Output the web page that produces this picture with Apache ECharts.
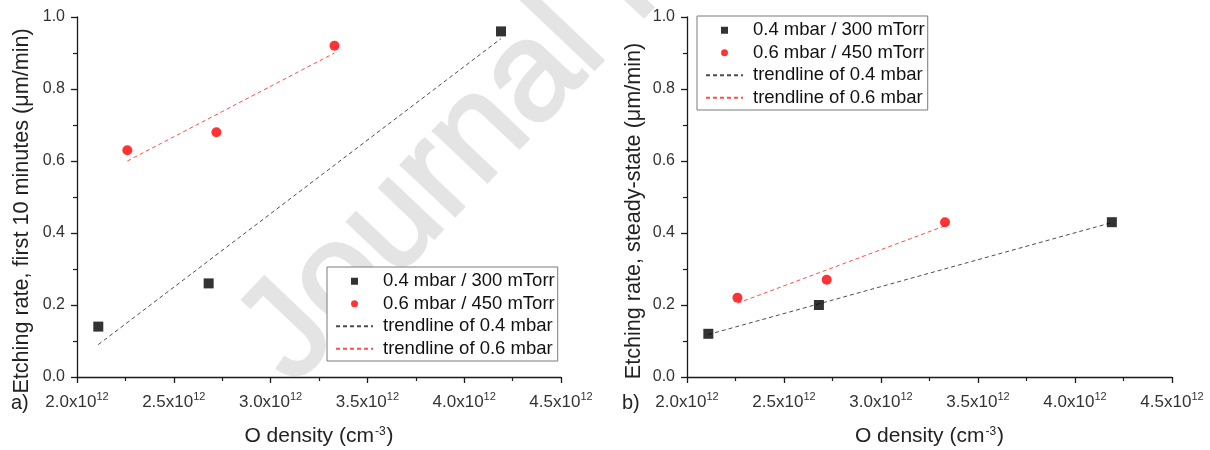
<!DOCTYPE html>
<html>
<head>
<meta charset="utf-8">
<script src="https://cdn.jsdelivr.net/npm/echarts@6/dist/echarts.min.js"></script>
<style>
  html, body { margin: 0; padding: 0; background: #ffffff; }
  #chart { width: 1210px; height: 450px; }
</style>
</head>
<body>
<div id="chart"></div>
<script>
// O density (cm^-3) of the two pressure series
const densityLow  = [2.11e12, 2.68e12, 4.19e12];   // 0.4 mbar / 300 mTorr
const densityHigh = [2.26e12, 2.72e12, 3.33e12];   // 0.6 mbar / 450 mTorr

// Etching rate during the first 10 minutes (µm/min)
const rateFirstLow  = [0.14, 0.26, 0.96];
const rateFirstHigh = [0.63, 0.68, 0.92];

// Steady-state etching rate (µm/min)
const rateSteadyLow  = [0.12, 0.20, 0.43];
const rateSteadyHigh = [0.22, 0.27, 0.43];

// Trendline end points, [O density, etching rate]
const trendFirstLow   = [[2.11e12, 0.09],  [4.19e12, 0.94]];
const trendFirstHigh  = [[2.26e12, 0.60],  [3.33e12, 0.90]];
const trendSteadyLow  = [[2.11e12, 0.118], [4.19e12, 0.429]];
const trendSteadyHigh = [[2.26e12, 0.205], [3.33e12, 0.42]];

// Axis ticks
const xTicks = { min: 2.0e12, max: 4.5e12, interval: 0.5e12 };
const yTicks = { min: 0, max: 1.0, interval: 0.2 };

const names = ['0.4 mbar / 300 mTorr', '0.6 mbar / 450 mTorr', 'trendline of 0.4 mbar', 'trendline of 0.6 mbar'];
const yTitles = ['Etching rate, first 10 minutes (\u03bcm/min)', 'Etching rate, steady-state (\u03bcm/min)'];
const panelTags = ['a)', 'b)'];

const FONT = '"Liberation Sans", Arial, Helvetica, sans-serif';
const AXIS_COLOR = '#1a1a1a';
const LABEL_COLOR = '#333333';
const SQUARE = 'path://M0 0H10V10H0Z';

const pair = (xs, ys) => xs.map((x, i) => [x, ys[i]]);

function xAxis(gridIndex) {
  return {
    type: 'value', gridIndex,
    min: xTicks.min, max: xTicks.max, interval: xTicks.interval,
    splitLine: { show: false },
    axisLine: { show: true, onZero: false, lineStyle: { color: AXIS_COLOR, width: 1.3 } },
    axisTick: { show: true, inside: false, length: 6, lineStyle: { color: AXIS_COLOR, width: 1.3 } },
    minorTick: { show: true, splitNumber: 2, length: 4, lineStyle: { color: AXIS_COLOR, width: 1.2 } },
    axisLabel: {
      margin: 14,
      formatter: v => '{b|' + (v / 1e12).toFixed(1) + 'x10}{s|12}',
      rich: {
        b: { fontFamily: FONT, fontSize: 17, color: LABEL_COLOR, lineHeight: 20, verticalAlign: 'bottom' },
        s: { fontFamily: FONT, fontSize: 11, color: LABEL_COLOR, lineHeight: 12, verticalAlign: 'top' }
      }
    },
    name: 'O density (cm{s|-3})',
    nameLocation: 'middle',
    nameGap: 49,
    nameTextStyle: {
      fontFamily: FONT, fontSize: 21, color: '#222',
      rich: {
        s: { fontFamily: FONT, fontSize: 12, color: '#222', lineHeight: 10, verticalAlign: 'top', padding: [0, 1, 0, 1] }
      }
    }
  };
}

function yAxis(gridIndex, title, gap) {
  return {
    type: 'value', gridIndex,
    min: yTicks.min, max: yTicks.max, interval: yTicks.interval,
    splitLine: { show: false },
    axisLine: { show: true, onZero: false, lineStyle: { color: AXIS_COLOR, width: 1.3 } },
    axisTick: { show: true, inside: false, length: 6, lineStyle: { color: AXIS_COLOR, width: 1.3 } },
    minorTick: { show: true, splitNumber: 2, length: 4, lineStyle: { color: AXIS_COLOR, width: 1.2 } },
    axisLabel: {
      margin: 12, fontFamily: FONT, fontSize: 16, color: LABEL_COLOR,
      formatter: v => v.toFixed(1)
    },
    name: title,
    nameLocation: 'middle',
    nameGap: gap,
    nameTextStyle: { fontFamily: FONT, fontSize: 21.6, color: '#222', padding: [0, 28, 0, 0] }
  };
}

function panelSeries(axisIndex, lowPts, highPts, lowTrend, highTrend) {
  return [
    {
      name: names[2], type: 'line', xAxisIndex: axisIndex, yAxisIndex: axisIndex,
      data: lowTrend, symbol: 'none', z: 2, silent: true,
      itemStyle: { color: '#4d4d4d', opacity: 0 },
      lineStyle: { color: '#4d4d4d', width: 1, type: [4, 3], opacity: 1 }
    },
    {
      name: names[3], type: 'line', xAxisIndex: axisIndex, yAxisIndex: axisIndex,
      data: highTrend, symbol: 'none', z: 2, silent: true,
      itemStyle: { color: '#ff4d4d', opacity: 0 },
      lineStyle: { color: '#ff4d4d', width: 1, type: [4, 3], opacity: 1 }
    },
    {
      name: names[0], type: 'scatter', xAxisIndex: axisIndex, yAxisIndex: axisIndex,
      data: lowPts, symbol: 'rect', symbolSize: 10, z: 3,
      itemStyle: { color: '#000000' }
    },
    {
      name: names[1], type: 'scatter', xAxisIndex: axisIndex, yAxisIndex: axisIndex,
      data: highPts, symbol: 'circle', symbolSize: 10, z: 3,
      itemStyle: { color: '#ff0000' }
    }
  ];
}

function legend(left, top, size) {
  return {
    left, top, orient: 'vertical',
    data: [
      { name: names[0], icon: SQUARE },
      { name: names[1], icon: 'circle' },
      { name: names[2], itemStyle: { opacity: 0 } },
      { name: names[3], itemStyle: { opacity: 0 } }
    ],
    selectedMode: false,
    itemWidth: 37, itemHeight: 7, itemGap: 0,
    symbolKeepAspect: true,
    padding: [3, 3, 1, 8],
    borderColor: '#7a7a7a', borderWidth: 1, backgroundColor: '#ffffff',
    textStyle: { fontFamily: FONT, fontSize: size, color: '#111', lineHeight: 22.5, padding: [0, 0, 0, 5] }
  };
}

const chart = echarts.init(document.getElementById('chart'), null, { renderer: 'canvas' });

chart.setOption({
  animation: false,
  backgroundColor: '#ffffff',
  grid: [
    { left: 77, top: 17, width: 484, height: 360, containLabel: false, outerBoundsMode: 'none' },
    { left: 687, top: 17, width: 485, height: 360, containLabel: false, outerBoundsMode: 'none' }
  ],
  xAxis: [xAxis(0), xAxis(1)],
  yAxis: [yAxis(0, yTitles[0], 44), yAxis(1, yTitles[1], 42)],
  legend: [legend(327, 267, 18.5), legend(697, 16, 18.5)],
  graphic: [
    {
      type: 'text', x: 316, y: 408, rotation: 46.5 * Math.PI / 180, z: -10, silent: true,
      style: {
        text: 'Journal Pre-proof', fill: '#e4e4e4', stroke: '#e4e4e4', lineWidth: 3,
        font: '140px ' + FONT, textAlign: 'left', textVerticalAlign: 'bottom'
      }
    },
    {
      type: 'text', left: 11, top: 393, silent: true,
      style: { text: panelTags[0], fill: '#222', font: '20px ' + FONT }
    },
    {
      type: 'text', left: 622, top: 393, silent: true,
      style: { text: panelTags[1], fill: '#222', font: '20px ' + FONT }
    }
  ],
  series: [
    ...panelSeries(0, pair(densityLow, rateFirstLow), pair(densityHigh, rateFirstHigh), trendFirstLow, trendFirstHigh),
    ...panelSeries(1, pair(densityLow, rateSteadyLow), pair(densityHigh, rateSteadyHigh), trendSteadyLow, trendSteadyHigh)
  ]
});
</script>
</body>
</html>
